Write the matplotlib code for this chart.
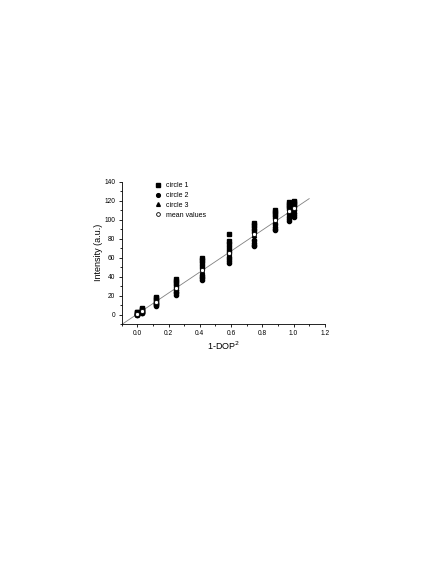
import numpy as np
from matplotlib import pyplot as plt

plt.rcParams['font.family'] = ['Liberation Sans', 'DejaVu Sans']

# 1-DOP^2 positions (sin^2 of 0..90 deg)
dop = [0.0, 0.030, 0.117, 0.250, 0.413, 0.587, 0.750, 0.883, 0.970, 1.0]

# circle 1 (squares)
circle1 = [[1, 2, 2.5, 3], [4, 5, 6, 7], [13, 15, 17, 18], [30, 33, 35, 37],
           [50, 54, 57, 60], [66, 70, 74, 77, 85], [88, 91, 94, 96],
           [103, 106, 108, 110], [112, 114, 116, 118], [114, 116, 118, 120]]
# circle 2 (dots)
circle2 = [[-0.5, 0, 0.5, 1], [1.5, 2, 3, 3.5], [9, 10, 11, 12], [21, 22.5, 24, 26],
           [36.5, 38, 40, 42], [54, 56, 58, 61], [72, 73.5, 75, 78],
           [89, 90.5, 92, 95], [99, 101, 103, 106], [103, 105, 107, 110]]
# circle 3 (triangles)
circle3 = [[0.5, 1, 1.5], [2.5, 3.5, 4.5], [12, 13, 14], [26, 28, 30],
           [43, 46, 49], [62, 65, 68], [80, 84, 88], [96, 99, 102],
           [106, 109, 112], [109, 112, 115]]
mean_vals = [0.7, 4.2, 13, 28, 46.6, 65.3, 84.3, 99.5, 109, 112.5]

fit_x = [-0.1, 1.1]
slope = 110.5
intercept = 0.5


def flat(xs, groups):
    xx = []
    yy = []
    for x, g in zip(xs, groups):
        for v in g:
            xx.append(x)
            yy.append(v)
    return xx, yy


fig = plt.figure(figsize=(4.36, 5.64), dpi=100)
ax = fig.add_axes([0.279, 0.4255, 0.466, 0.2525])

fx = np.array(fit_x)
ax.plot(fx, slope * fx + intercept, color='#808080', lw=0.6, zorder=1)

x1, y1 = flat(dop, circle1)
x2, y2 = flat(dop, circle2)
x3, y3 = flat(dop, circle3)
ms = 3
ax.plot(x1, y1, 's', color='black', ms=ms, ls='none', label='circle 1', zorder=2)
ax.plot(x2, y2, 'o', color='black', ms=ms, ls='none', label='circle 2', zorder=2)
ax.plot(x3, y3, '^', color='black', ms=ms, ls='none', label='circle 3', zorder=2)
ax.plot(dop, mean_vals, 'o', mfc='white', mec='black', mew=0.6, ms=3,
        ls='none', label='mean values', zorder=3)

ax.set_xlim(-0.1, 1.2)
ax.set_ylim(-10, 140)
ax.set_xticks(np.arange(0, 1.21, 0.2))
ax.set_xticks(np.arange(-0.1, 1.21, 0.1), minor=True)
ax.set_yticks(np.arange(0, 141, 20))
ax.set_yticks(np.arange(-10, 141, 10), minor=True)
ax.xaxis.set_major_formatter(plt.FuncFormatter(lambda v, p: '%.1f' % v))

for s in ['top', 'right']:
    ax.spines[s].set_visible(False)
for s in ['left', 'bottom']:
    ax.spines[s].set_linewidth(0.6)
ax.tick_params(which='major', direction='out', length=2.5, width=0.6, labelsize=4.8, pad=2)
ax.tick_params(which='minor', direction='out', length=1.3, width=0.6)

ax.set_xlabel('1-DOP$^2$', fontsize=6.5, labelpad=1.5)
ax.set_ylabel('Intensity (a.u.)', fontsize=6.5, labelpad=1)

ax.legend(loc='upper left', bbox_to_anchor=(0.14, 1.03), frameon=False,
          fontsize=5, handlelength=1.0, handletextpad=0.6, labelspacing=0.4,
          borderpad=0.2, markerscale=0.9)

plt.savefig('out.png', dpi=100)
